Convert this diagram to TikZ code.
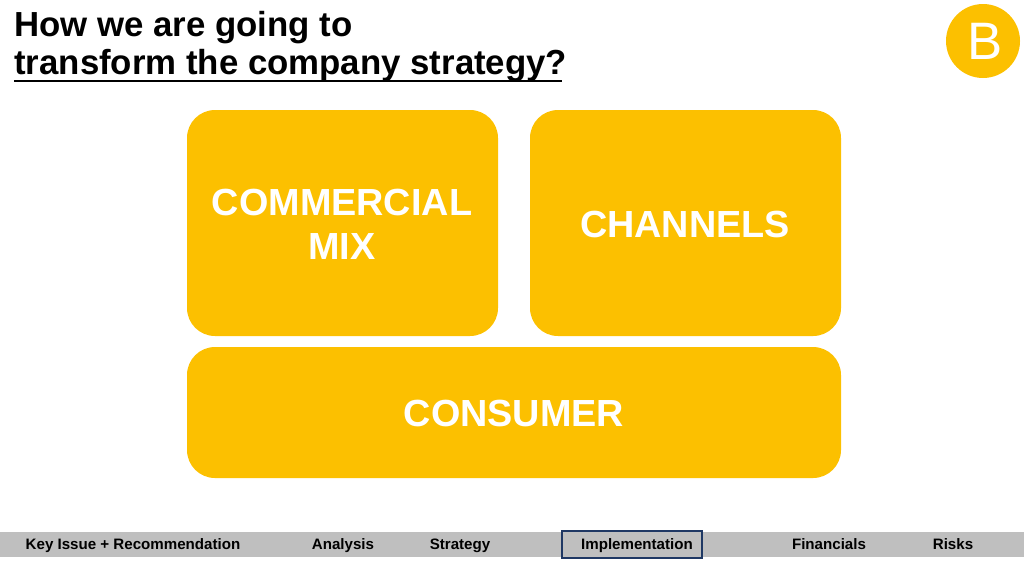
\documentclass[tikz,border=0pt]{standalone}
\usepackage{fontspec}
\setmainfont{Liberation Sans}
\definecolor{gold}{HTML}{FCC000}
\definecolor{barGray}{HTML}{BFBFBF}
\definecolor{navy}{HTML}{1F3864}
\tikzset{
  block/.style={fill=gold,rounded corners=0.56cm},
  blocktext/.style={text=white,font=\bfseries\fontsize{21.5}{25}\selectfont,align=center},
  tab/.style={anchor=base,font=\bfseries\fontsize{8.6}{9}\selectfont}
}
\begin{document}
\begin{tikzpicture}[x=0.02cm,y=-0.02cm]
\useasboundingbox (0,0) rectangle (1024,576);
\node[anchor=base west,font=\bfseries\fontsize{19.8}{22}\selectfont,inner sep=0] (t1) at (14,36) {How we are going to};
\node[anchor=base west,font=\bfseries\fontsize{19.8}{22}\selectfont,inner sep=0] (t2) at (14,74) {transform the company strategy?};
\draw[line width=1.2pt] (14,81) -- (562,81);
\fill[gold] (983,41) circle (37);
\node[text=white,font=\fontsize{30}{32}\selectfont] (logo) at (985,41) {B};
\fill[block] (187,110) rectangle (498,336);
\fill[block] (530,110) rectangle (841,336);
\fill[block] (187,347) rectangle (841,478);
\node[blocktext] (mix) at (342,224) {COMMERCIAL\\MIX};
\node[blocktext] (chan) at (685,224) {CHANNELS};
\node[blocktext] (cons) at (514,413) {CONSUMER};
\fill[barGray] (0,532) rectangle (1024,557);
\draw[navy,line width=1.2pt] (562,531) rectangle (702,558);
\node[tab] (k1) at (133,549) {Key Issue + Recommendation};
\node[tab] (k2) at (343,549) {Analysis};
\node[tab] (k3) at (460,549) {Strategy};
\node[tab] (k4) at (637,549) {Implementation};
\node[tab] (k5) at (829,549) {Financials};
\node[tab] (k6) at (953,549) {Risks};
\end{tikzpicture}
\end{document}
